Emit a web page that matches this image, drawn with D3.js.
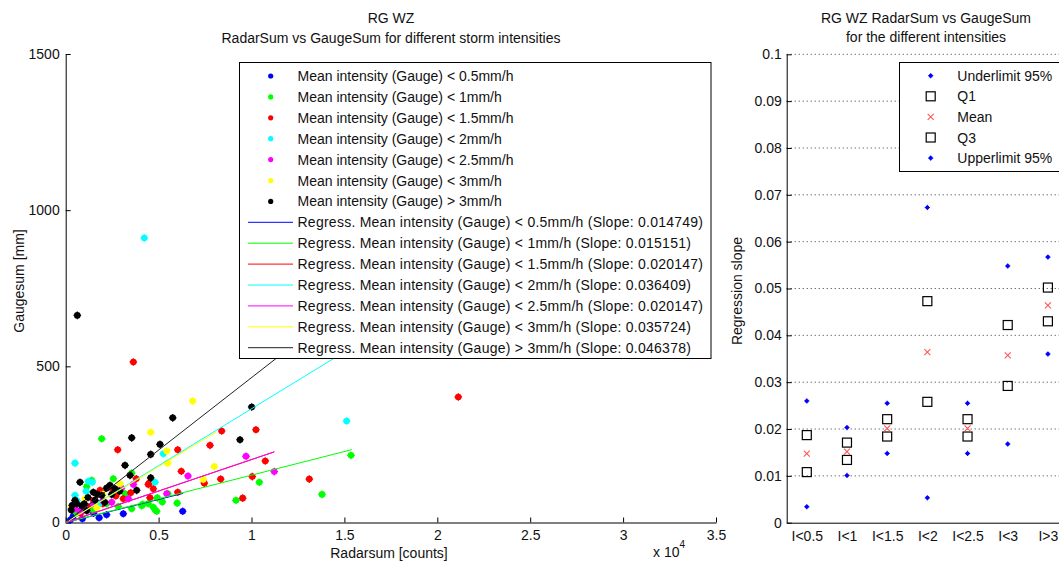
<!DOCTYPE html>
<html>
<head>
<meta charset="utf-8">
<script src="https://cdn.jsdelivr.net/npm/d3@7"></script>
<style>
  body { margin: 0; background: #fff; }
  svg { display: block; font-family: "Liberation Sans", Arial, sans-serif; }
  text { fill: #111; }
</style>
</head>
<body>
<svg id="chart" width="1059" height="561"></svg>
<script>
// ---- data: left panel (radarsum [counts], gaugesum [mm]) ----
const groupNames = ["< 0.5mm/h", "< 1mm/h", "< 1.5mm/h", "< 2mm/h", "< 2.5mm/h", "< 3mm/h", "> 3mm/h"]
const groupColors = ["#0000ff", "#00ff00", "#ff0000", "#00ffff", "#ff00ff", "#ffff00", "#000000"]
const slopes = [0.014749, 0.015151, 0.020147, 0.036409, 0.020147, 0.035724, 0.046378]
// x extent of each regression line
const lineEnd = [6320, 15400, 11230, 15150, 11230, 8100, 12400]

const ptsBlue = [[6297, 36], [3100, 28], [400, 20], [900, 12], [1500, 30], [2200, 25], [250, 8], [700, 35], [1800, 15]]
const ptsGreen = [[1937, 268], [15355, 215], [13795, 90], [10420, 129], [9166, 71], [4898, 36], [4715, 49], [4144, 58],
  [4930, 79], [5490, 93], [3552, 158], [2562, 140], [1130, 115], [3192, 92], [4090, 54], [4446, 60], [4806, 41],
  [2831, 51], [3552, 44], [600, 30], [1500, 40], [2200, 60], [1400, 135], [6000, 62], [5200, 66]]
const ptsRed = [[3640, 514], [21130, 402], [8395, 293], [10240, 297], [2799, 233], [6028, 233], [7766, 247],
  [6222, 164], [10743, 197], [13111, 139], [10043, 147], [8342, 139], [7460, 126], [9526, 78], [6028, 97],
  [4500, 126], [4446, 122], [4715, 108], [1846, 103], [3100, 76], [4537, 79], [2000, 60], [1200, 50],
  [2700, 85], [800, 30], [3500, 95], [1500, 70], [2500, 110], [3800, 140]]
const ptsCyan = [[15120, 325], [500, 190], [5253, 220], [4806, 129], [1217, 132], [1432, 129], [500, 87],
  [4230, 911], [600, 70], [1800, 60], [1100, 100], [300, 45]]
const ptsMagenta = [[9704, 212], [11227, 163], [6582, 149], [5436, 92], [3640, 122], [3370, 76], [2476, 65],
  [500, 44], [1500, 60], [800, 35], [1000, 50], [2000, 70], [3000, 110]]
const ptsYellow = [[6835, 389], [4575, 289], [5436, 229], [5490, 190], [7998, 179], [7406, 138], [2923, 124],
  [1039, 76], [1668, 47], [300, 50], [2000, 90]]
const ptsBlack = [[625, 663], [5760, 335], [10010, 370], [3552, 271], [5075, 250], [4575, 218], [9381, 265],
  [3192, 183], [4575, 143], [3821, 103], [3461, 151], [2384, 119], [2653, 108], [2476, 90], [1937, 87],
  [1486, 97], [1577, 71], [770, 129], [500, 71], [592, 60], [861, 54], [1130, 38], [300, 40], [1200, 80],
  [2100, 65], [2900, 100], [350, 55], [1000, 60], [1700, 90], [2200, 110]]
const groups = [ptsBlue, ptsGreen, ptsRed, ptsCyan, ptsMagenta, ptsYellow, ptsBlack]

const xTicksLeft = [0, 5000, 10000, 15000, 20000, 25000, 30000, 35000]
const yTicksLeft = [0, 500, 1000, 1500]

// ---- data: right panel (regression slope per intensity class) ----
const classes = ["I<0.5", "I<1", "I<1.5", "I<2", "I<2.5", "I<3", "I>3"]
const underlimit = [0.0034, 0.0101, 0.0148, 0.0053, 0.0148, 0.0168, 0.0360]
const q1 = [0.0108, 0.0134, 0.0184, 0.0258, 0.0184, 0.0292, 0.0430]
const meanSlope = slopes
const q3 = [0.0187, 0.0171, 0.0221, 0.0473, 0.0221, 0.0422, 0.0502]
const upperlimit = [0.0260, 0.0203, 0.0255, 0.0673, 0.0255, 0.0548, 0.0567]
const yTicksRight = d3.range(0, 0.1001, 0.01)

const svg = d3.select("#chart")
const fs = 14

// ================= left panel =================
let x = d3.scaleLinear().domain([0, 35000]).range([65.7, 716])
let y = d3.scaleLinear().domain([0, 1500]).range([522.5, 54])

svg.append("g")
  .attr("transform", `translate(0,${y(0)})`)
  .call(d3.axisBottom(x).tickValues(xTicksLeft).tickFormat(d => d / 1e4).tickSizeInner(-5).tickSizeOuter(0).tickPadding(8))
  .call(g => g.selectAll("text").attr("font-size", fs))

svg.append("g")
  .attr("transform", `translate(${x(0)},0)`)
  .call(d3.axisLeft(y).tickValues(yTicksLeft).tickFormat(d3.format("d")).tickSizeInner(-5).tickSizeOuter(0).tickPadding(6))
  .call(g => g.selectAll("text").attr("font-size", fs))

svg.selectAll(".domain, .tick line").attr("stroke", "#000")
svg.selectAll("text").attr("font-family", null)

// points
groups.forEach((pts, i) => {
  let g = svg.append("g")
  g.selectAll("circle").data(pts).join("circle")
    .attr("cx", d => x(d[0])).attr("cy", d => y(d[1]))
    .attr("r", 3.3).attr("fill", groupColors[i])
  g.selectAll("path").data(pts).join("path")
    .attr("d", d => `M${x(d[0]) - 3.8},${y(d[1])}h7.6M${x(d[0])},${y(d[1]) - 3.8}v7.6`)
    .attr("stroke", groupColors[i]).attr("stroke-width", 1.2)
})

// regression lines
let line = d3.line().x(d => x(d[0])).y(d => y(d[1]))
slopes.forEach((s, i) => {
  svg.append("path")
    .datum([[0, 0], [lineEnd[i], s * lineEnd[i]]])
    .attr("fill", "none")
    .attr("stroke", groupColors[i] === "#000000" ? "#222" : groupColors[i])
    .attr("stroke-width", 1)
    .attr("d", line)
})

// titles / labels
svg.append("text").attr("x", 391).attr("y", 23).attr("text-anchor", "middle").attr("font-size", fs).text("RG WZ")
svg.append("text").attr("x", 391).attr("y", 43).attr("text-anchor", "middle").attr("font-size", fs)
  .text("RadarSum vs GaugeSum for different storm intensities")
svg.append("text").attr("x", 389).attr("y", 558).attr("text-anchor", "middle").attr("font-size", fs).text("Radarsum [counts]")
let ex = svg.append("text").attr("x", 653).attr("y", 557).attr("font-size", fs)
ex.append("tspan").text("x 10")
ex.append("tspan").attr("dy", -9).attr("font-size", 10).text("4")
svg.append("text").attr("transform", "translate(24,281) rotate(-90)").attr("text-anchor", "middle")
  .attr("font-size", fs).text("Gaugesum [mm]")

// legend
let leg = svg.append("g")
leg.append("rect").attr("x", 239.5).attr("y", 62.5).attr("width", 471.5).attr("height", 296)
  .attr("fill", "#fff").attr("stroke", "#000").attr("stroke-width", 1)
let rowY = i => 76 + i * 20.9
groupNames.forEach((n, i) => {
  leg.append("circle").attr("cx", 270.7).attr("cy", rowY(i)).attr("r", 2.6).attr("fill", groupColors[i])
  leg.append("text").attr("x", 297.5).attr("y", rowY(i)).attr("dy", "0.36em").attr("font-size", fs)
    .text("Mean intensity (Gauge) " + n)
})
groupNames.forEach((n, i) => {
  let ry = rowY(i + 7)
  leg.append("line").attr("x1", 248).attr("x2", 293).attr("y1", ry).attr("y2", ry)
    .attr("stroke", groupColors[i] === "#000000" ? "#222" : groupColors[i]).attr("stroke-width", 1)
  leg.append("text").attr("x", 297.5).attr("y", ry).attr("dy", "0.36em").attr("font-size", fs)
    .attr("letter-spacing", 0.25)
    .text(`Regress. Mean intensity (Gauge) ${n} (Slope: ${slopes[i].toFixed(6)})`)
})

// ================= right panel =================
let x2 = d3.scaleLinear().domain([0.5, 7.5]).range([786.7, 1068])
let y2 = d3.scaleLinear().domain([0, 0.1]).range([522.7, 54.3])

// dotted grid
svg.append("g").selectAll("line").data(yTicksRight.slice(1)).join("line")
  .attr("x1", x2(0.5)).attr("x2", x2(7.5))
  .attr("y1", d => y2(d)).attr("y2", d => y2(d))
  .attr("stroke", "#333").attr("stroke-width", 1).attr("stroke-dasharray", "1,3")

svg.append("g")
  .attr("transform", `translate(0,${y2(0)})`)
  .call(d3.axisBottom(x2).tickValues(d3.range(1, 8)).tickFormat(d => classes[d - 1]).tickSize(0).tickPadding(8))
  .call(g => g.selectAll("text").attr("font-size", fs))

svg.append("g")
  .attr("transform", `translate(${x2(0.5)},0)`)
  .call(d3.axisLeft(y2).tickValues(yTicksRight).tickFormat(d3.format("~g")).tickSizeInner(-5).tickSizeOuter(0).tickPadding(5))
  .call(g => g.selectAll("text").attr("font-size", fs))

svg.selectAll(".domain, .tick line").attr("stroke", "#000")
svg.selectAll("text").attr("font-family", null)

let idx = d3.range(1, 8)
let dot = (arr) => {
  let g = svg.append("g")
  g.selectAll("circle").data(idx).join("circle")
    .attr("cx", d => x2(d)).attr("cy", d => y2(arr[d - 1])).attr("r", 2).attr("fill", "#0000ff")
  g.selectAll("path").data(idx).join("path")
    .attr("d", d => `M${x2(d) - 2.6},${y2(arr[d - 1])}h5.2M${x2(d)},${y2(arr[d - 1]) - 2.6}v5.2`)
    .attr("stroke", "#0000ff").attr("stroke-width", 1)
}
let square = (arr) => {
  svg.append("g").selectAll("rect").data(idx).join("rect")
    .attr("x", d => x2(d) - 4.5).attr("y", d => y2(arr[d - 1]) - 4.5)
    .attr("width", 9).attr("height", 9)
    .attr("fill", "none").attr("stroke", "#000").attr("stroke-width", 1.2)
}
let cross = (arr) => {
  svg.append("g").selectAll("path").data(idx).join("path")
    .attr("d", d => { let cx = x2(d), cy = y2(arr[d - 1]); return `M${cx - 3},${cy - 3}L${cx + 3},${cy + 3}M${cx - 3},${cy + 3}L${cx + 3},${cy - 3}` })
    .attr("stroke", "#ff5555").attr("stroke-width", 1.1)
}
dot(underlimit)
square(q1)
cross(meanSlope)
square(q3)
dot(upperlimit)

svg.append("text").attr("x", 926).attr("y", 23).attr("text-anchor", "middle").attr("font-size", fs).text("RG WZ RadarSum vs GaugeSum")
svg.append("text").attr("x", 926).attr("y", 42).attr("text-anchor", "middle").attr("font-size", fs).text("for the different intensities")
svg.append("text").attr("transform", "translate(742,291) rotate(-90)").attr("text-anchor", "middle")
  .attr("font-size", fs).text("Regression slope")

// legend right
let leg2 = svg.append("g")
leg2.append("rect").attr("x", 899.5).attr("y", 62.5).attr("width", 200).attr("height", 109)
  .attr("fill", "#fff").attr("stroke", "#000").attr("stroke-width", 1)
let legItems = ["Underlimit 95%", "Q1", "Mean", "Q3", "Upperlimit 95%"]
legItems.forEach((n, i) => {
  let ry = 75.7 + i * 20.6, cx = 930.7
  if (i === 0 || i === 4) {
    leg2.append("circle").attr("cx", cx).attr("cy", ry).attr("r", 2).attr("fill", "#0000ff")
    leg2.append("path").attr("d", `M${cx - 2.6},${ry}h5.2M${cx},${ry - 2.6}v5.2`).attr("stroke", "#0000ff")
  } else if (i === 2) {
    leg2.append("path").attr("d", `M${cx - 3},${ry - 3}L${cx + 3},${ry + 3}M${cx - 3},${ry + 3}L${cx + 3},${ry - 3}`)
      .attr("stroke", "#ff5555").attr("stroke-width", 1.1)
  } else {
    leg2.append("rect").attr("x", cx - 4.5).attr("y", ry - 4.5).attr("width", 9).attr("height", 9)
      .attr("fill", "none").attr("stroke", "#000").attr("stroke-width", 1.2)
  }
  leg2.append("text").attr("x", 957.3).attr("y", ry).attr("dy", "0.36em").attr("font-size", fs).text(n)
})
</script>
</body>
</html>
